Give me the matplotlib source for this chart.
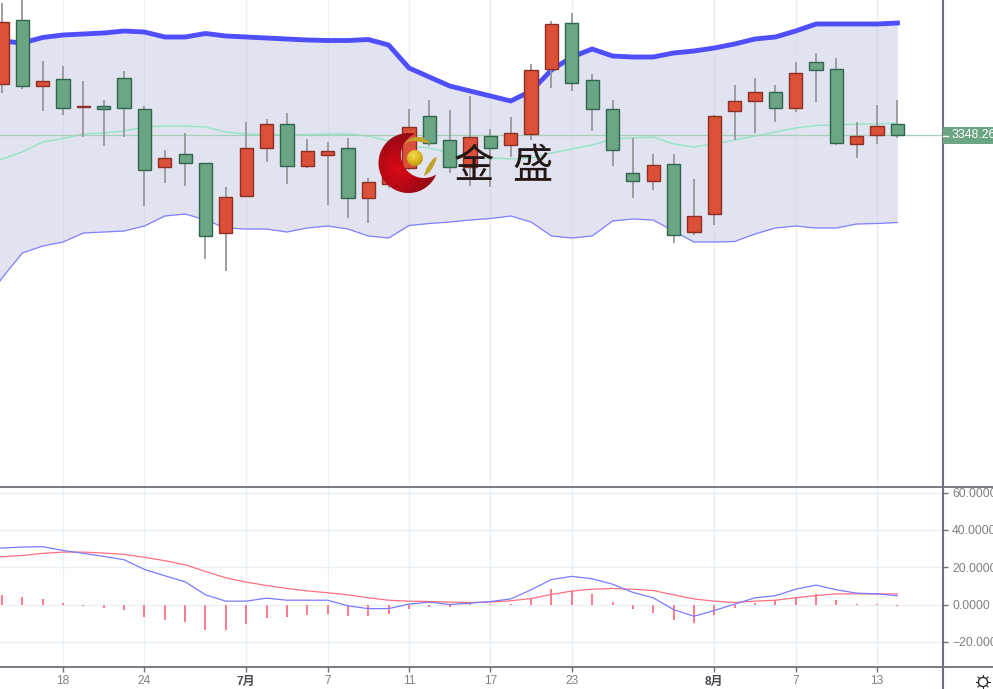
import numpy as np
import matplotlib
matplotlib.use("Agg")
import matplotlib.pyplot as plt
from matplotlib.patches import Rectangle, Circle, PathPatch, Polygon
from matplotlib.path import Path
from matplotlib.colors import LinearSegmentedColormap

plt.rcParams['font.family'] = ['Liberation Sans', 'Noto Sans CJK SC', 'DejaVu Sans']

opens = [3399,3463,3397,3404,3376,3377,3405,3374.5,3316,3329,3320,3250,3287,3335,3359.5,3317,3328.5,3335,3285,3299,
         3315,3367,3343,3316,3347,3338,3349,3414,3460,3403,3374.5,3310,3302,3319,3251,3269,3372,3382.5,3391.5,3375.5,
         3421.5,3414,3339,3348.5,3359.5]
closes = [3461,3397,3402,3375.5,3377,3374.5,3375.5,3313.5,3325.5,3320,3247.5,3286,3335,3359.5,3317,3332,3332,3285,3301,3333,
          3356,3340,3316,3346,3335,3350,3413,3459.5,3400,3374.5,3333,3302,3318,3248.5,3267,3367,3382,3391.5,3375.5,3410.5,
          3413.5,3340,3347,3357.5,3348.26]
highs = [3480,3490,3422,3417,3402,3383,3412,3377,3333,3350,3320,3296,3361,3364,3370,3344,3341,3345,3305,3340,
         3374,3383,3373,3387,3354,3366,3419,3462,3470,3409,3383,3345,3329,3329,3304,3368,3398,3405,3398,3421,
         3430,3425,3361,3378,3383]
lows = [3390,3394,3372,3368,3346,3337,3346,3277,3300,3297,3224,3212,3286,3321,3299,3315,3278,3265,3260,3295,
        3313,3337,3310,3297,3296,3326,3343,3395,3392,3352,3317,3285,3293,3240,3248,3258,3343,3350,3361,3371,
        3381,3338,3325,3339,3345]
# band series start one session before the first candle, which lies off the left edge
boll_upper = [3444,3442,3440,3445.5,3448,3449,3450,3452,3451,3446,3446,3449.5,3447,3446,3445,3444,3443,3442.5,3442.5,3443.5,3438,
              3415,3406,3397,3392,3387,3382,3392,3413,3426,3434,3427,3426,3426,3430,3432,3435,3439,3444,3446,3452,
              3459,3459,3459,3459,3460]
boll_mid = [3314,3324,3331,3341,3344.5,3349,3350,3352,3356,3357,3357,3356,3351,3349,3348.5,3348,3348.5,3349,3349,3347,3342,
            3337,3335,3330,3325,3325,3324,3325,3330,3334,3338,3344,3345,3346,3339,3336,3339,3343,3347,3351,3355,
            3357.5,3358,3359,3359,3360]
boll_lower = [3175,3205,3230,3237,3241,3250,3251,3252,3257,3267,3269,3263,3255,3254,3254,3251,3255,3257,3254,3247,3245,
              3257.5,3259.5,3261,3263,3264.5,3267,3261,3247,3245,3247,3262,3264,3263,3252,3241,3241,3241.5,3249,3255,3257,
              3255,3255,3259,3259.5,3260.5]
dif = [30.0,30.3,30.8,31.0,29.0,27.4,25.8,24.0,18.8,15.4,12.2,5.2,1.8,1.8,3.4,2.3,2.3,2.3,-0.7,-2.2,-2.2,
       0.2,1.3,0,0.7,1.6,3.0,7.9,13.4,15.1,13.8,10.9,6.5,3.6,-2.7,-6.3,-3.2,0.2,3.6,4.7,8.2,
       10.4,7.9,6.1,5.7,4.7]
dea = [25.2,25.6,26.3,27.4,28.1,28.1,27.6,26.9,25.3,23.5,21.3,17.7,14.3,12.0,10.2,8.6,7.3,6.3,5.2,3.6,2.3,
       1.8,1.6,1.3,1.1,1.3,2.0,3.2,5.4,7.2,8.2,8.6,8.2,7.5,5.2,3.0,1.8,1.1,1.8,2.3,3.6,
       4.8,5.7,5.7,5.7,5.7]
hist = [5.0,3.8,3.0,0.7,-0.7,-1.8,-3.2,-6.8,-8.4,-9.5,-13.6,-13.6,-10.4,-7.2,-6.6,-5.6,-5.0,-6.1,-6.3,-5.0,
        -2.5,-1.1,-1.4,0.1,0.1,0.4,3.6,8.2,7.2,5.4,1.4,-2.3,-4.3,-8.2,-10.0,-5.4,-1.8,0.7,2.3,4.1,
        5.4,2.2,0.5,0.2,-1.0]
last_price = 3348.26
tick_pos = [3, 7, 12, 16, 20, 24, 28, 35, 39, 43]
tick_labels = ['18', '24', '7月', '7', '11', '17', '23', '8月', '7', '13']
macd_ticks = [60, 40, 20, 0, -20]
macd_labels = ['60.0000', '40.0000', '20.0000', '0.0000', '\u221220.0000']

W, H = 993, 689
fig = plt.figure(figsize=(W / 100, H / 100), dpi=100, facecolor='white')
ax1 = fig.add_axes([0, (H - 487) / H, 943 / W, 487 / H])
ax2 = fig.add_axes([0, (H - 667) / H, 943 / W, 180 / H])
x = np.arange(len(closes))
xb = np.arange(-1, len(closes))
XLIM = (-0.098, 46.24)
GRID = '#e7f1f5'
SPINE = '#70707c'
RED, RED_E = '#dc5039', '#8a3024'
GREEN, GREEN_E = '#6ba583', '#2f6650'

# price pane
ax1.set_xlim(*XLIM)
ax1.set_ylim(2996, 3483)
ax1.set_yticks([])
ax1.set_xticks(tick_pos)
ax1.tick_params(axis='x', length=0, labelbottom=False)
ax1.grid(axis='x', color=GRID, lw=1, zorder=0)
ax1.set_axisbelow(True)
ax1.fill_between(xb, boll_lower, boll_upper, color='#c7c9e3', alpha=0.5, lw=0, zorder=1)
ax1.plot(xb, boll_mid, color='#93e2c4', lw=1, zorder=2)
ax1.plot(xb, boll_lower, color='#8080ff', lw=0.9, zorder=2)
ax1.plot(xb, boll_upper, color='#4f4fff', lw=3.5, zorder=2, solid_joinstyle='round')
ax1.axhline(last_price, color='#a5d0bb', lw=0.9, zorder=2.5)
ax1.vlines(x, lows, highs, color='#97979b', lw=1.3, zorder=3)
for i in x:
    up = closes[i] >= opens[i]
    ax1.bar(i, abs(closes[i] - opens[i]), bottom=min(opens[i], closes[i]), width=0.65,
            color=RED if up else GREEN, edgecolor=RED_E if up else GREEN_E, lw=1, zorder=4)

# MACD pane
ax2.set_xlim(*XLIM)
ax2.set_ylim(-33.5, 63)
ax2.set_yticks(macd_ticks)
ax2.set_yticklabels(macd_labels)
ax2.yaxis.tick_right()
ax2.set_xticks(tick_pos)
ax2.set_xticklabels(tick_labels)
ax2.grid(color=GRID, lw=1, zorder=0)
ax2.set_axisbelow(True)
ax2.tick_params(axis='y', length=3.6, width=1, color=SPINE, labelsize=8.8, labelcolor='#808080', pad=3)
ax2.tick_params(axis='x', length=3.6, width=1, color=SPINE, labelsize=8.6, labelcolor='#808080', pad=2.5)
for lab in ax2.get_xticklabels():
    if '月' in lab.get_text():
        lab.set_fontweight('bold')
        lab.set_color('#4a4a52')
ax2.vlines(x, 0, hist, color='#ff6478', lw=1.2, zorder=2)
ax2.plot(xb, dea, color='#ff7080', lw=0.9, zorder=3)
ax2.plot(xb, dif, color='#7a7aff', lw=0.9, zorder=3)

for ax in (ax1, ax2):
    for s in ax.spines.values():
        s.set_visible(False)

# overlay in pixel coordinates: frame, price tag, logo
ov = fig.add_axes([0, 0, 1, 1], facecolor='none')
ov.set_axis_off()
ov.plot([0, W], [487, 487], color=SPINE, lw=1.3)
ov.plot([0, W], [667, 667], color=SPINE, lw=1.3)
ov.plot([943, 943], [0, H], color=SPINE, lw=1.5)
ov.add_patch(Rectangle((943, 127), 50, 17, color=GREEN, lw=0, zorder=2))
ov.plot([943, 948], [135.5, 135.5], color='white', lw=1, zorder=3)
ov.text(952, 135.5, f'{last_price:.2f}', color='white', fontsize=8.9, va='center', ha='left', zorder=4)

# sun icon
ov.add_patch(Circle((983, 682), 4.6, fc='none', ec='#2a2a2a', lw=1))
for a in np.arange(0, 2 * np.pi, np.pi / 4):
    ov.plot([983 + 5.4 * np.cos(a), 983 + 7 * np.cos(a)], [682 + 5.4 * np.sin(a), 682 + 7 * np.sin(a)],
            color='#2a2a2a', lw=0.8)

# crescent logo
t = np.linspace(0, 2 * np.pi, 721)
c1, r1 = (408.5, 163.0), 30.0
c2, r2 = (424.0, 155.0), 23.0
ox, oy = c1[0] + r1 * np.cos(t), c1[1] + r1 * np.sin(t)
ix, iy = c2[0] + r2 * np.cos(t), c2[1] + r2 * np.sin(t)
keep_o = np.hypot(ox - c2[0], oy - c2[1]) >= r2
keep_i = np.hypot(ix - c1[0], iy - c1[1]) < r1
po = np.column_stack([ox, oy])
pi_ = np.column_stack([ix, iy])
po = np.roll(po, -np.argmax(keep_o & ~np.roll(keep_o, 1)), axis=0)[:keep_o.sum()]
pi_ = np.roll(pi_, -np.argmax(keep_i & ~np.roll(keep_i, 1)), axis=0)[:keep_i.sum()]
ang0 = np.hypot(*(pi_[0] - po[-1]))
ang1 = np.hypot(*(pi_[-1] - po[-1]))
pi_ = pi_ if ang0 < ang1 else pi_[::-1]
crescent = np.vstack([po, pi_])
yy, xx = np.mgrid[125:200, 370:445]
d = np.hypot(xx - 398, yy - 168)
cmap = LinearSegmentedColormap.from_list('logo', ['#d80a18', '#c20814', '#a00a14', '#8c0d14'])
im = ov.imshow(d, extent=(370, 445, 200, 125), cmap=cmap, vmin=0, vmax=40, aspect='auto', zorder=6,
               interpolation='bilinear')
clip = Polygon(crescent, closed=True, transform=ov.transData, fc='none', ec='none')
ov.add_patch(clip)
im.set_clip_path(clip)

# gold ball and leaves
yy, xx = np.mgrid[148:169, 405:426]
d = np.hypot(xx - 413, yy - 155)
gold = LinearSegmentedColormap.from_list('gold', ['#f2dc50', '#d9b81e', '#a98a12'])
ball = ov.imshow(d, extent=(405, 426, 169, 148), cmap=gold, vmin=0, vmax=13, aspect='auto', zorder=7,
                 interpolation='bilinear')
bc = Circle((415, 158), 8, transform=ov.transData, fc='none', ec='none')
ov.add_patch(bc)
ball.set_clip_path(bc)
leaf1 = Path([(404, 144), (412, 134), (424, 138), (431, 144), (420, 141), (410, 141), (404, 144)],
             [Path.MOVETO, Path.CURVE3, Path.CURVE3, Path.LINETO, Path.CURVE3, Path.CURVE3, Path.CLOSEPOLY])
leaf2 = Path([(424, 176), (433, 172), (437, 157), (434, 158), (426, 166), (424, 176), (424, 176)],
             [Path.MOVETO, Path.CURVE3, Path.CURVE3, Path.LINETO, Path.CURVE3, Path.CURVE3, Path.CLOSEPOLY])
ov.add_patch(PathPatch(leaf1, fc='#c0a428', ec='none', zorder=7))
ov.add_patch(PathPatch(leaf2, fc='#c0a428', ec='none', zorder=7))
for ch, cx in (('金', 474), ('盛', 532)):
    ov.text(cx, 167, ch, fontsize=29, color='#231815', ha='center', va='center', zorder=8,
            family=['Noto Sans CJK SC', 'DejaVu Sans'], fontweight='medium')

ov.set_xlim(0, W)
ov.set_ylim(H, 0)
fig.savefig('out.png', dpi=100)
